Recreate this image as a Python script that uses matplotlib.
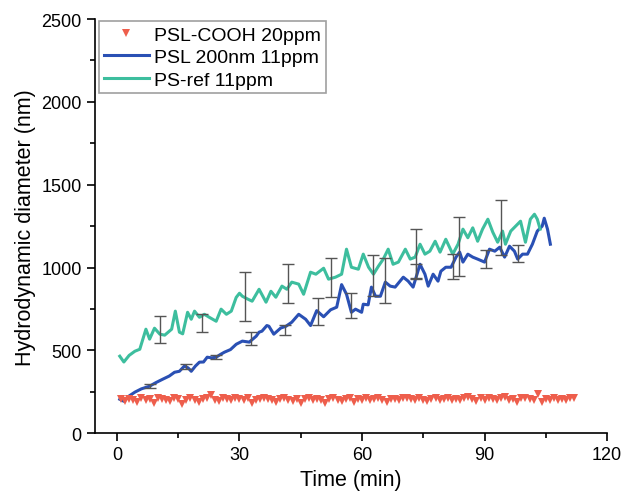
import numpy as np
import matplotlib
matplotlib.use("Agg")
from matplotlib import pyplot as plt

plt.rcParams['font.family'] = ['Liberation Sans', 'DejaVu Sans']

# PS-ref 11ppm (green line)
ref_t = [0.7, 1.7, 3.0, 4.4, 5.6, 7.1, 8.0, 9.2, 10.5, 11.7, 13.4, 14.3, 15.3, 16.1, 17.3, 18.2,
         19.0, 20.2, 21.4, 22.6, 24.3, 25.5, 26.8, 28.0, 29.2, 30.0, 30.7, 32.0, 33.1, 34.8, 36.5,
         37.7, 38.9, 40.4, 41.6, 42.8, 44.5, 45.7, 47.4, 48.7, 50.6, 51.8, 53.5, 55.0, 56.2, 57.4,
         59.1, 60.3, 61.6, 62.8, 64.0, 65.2, 66.4, 67.6, 68.9, 70.6, 71.8, 73.0, 74.2, 75.4, 76.6,
         77.9, 79.1, 80.5, 82.2, 83.5, 84.7, 85.9, 87.1, 88.3, 89.5, 90.8, 92.0, 93.2, 94.4, 95.1,
         96.4, 97.6, 98.8, 100.0, 101.2, 102.2, 102.9, 103.6]
ref_d = [465, 430, 470, 495, 507, 628, 568, 634, 598, 592, 628, 737, 610, 600, 730, 688,
         737, 700, 718, 700, 676, 749, 718, 737, 820, 845, 827, 810, 797, 869, 791,
         857, 821, 888, 869, 912, 900, 839, 972, 960, 996, 930, 942, 960, 1111, 1002,
         990, 1081, 1002, 960, 1008, 1051, 1111, 1020, 1033, 1111, 1051, 1063, 1141, 1081, 1099,
         1159, 1093, 1171, 1081, 1141, 1232, 1180, 1240, 1159, 1232, 1292, 1214, 1153, 1220, 1141,
         1220, 1250, 1280, 1153, 1292, 1322, 1292, 1232]

# PSL 200nm 11ppm (blue line)
psl_t = [0.7, 1.7, 3.0, 4.4, 6.0, 8.0, 9.5, 11.2, 12.8, 14.1, 15.3, 16.5, 17.4, 18.2, 19.2, 20.2,
         21.2, 22.1, 23.2, 24.3, 25.3, 26.3, 27.8, 29.2, 30.7, 32.4, 34.1, 34.8, 35.5, 36.7, 37.2,
         38.4, 40.1, 41.4, 42.8, 44.5, 46.2, 47.4, 48.9, 50.6, 52.3, 53.8, 55.0, 56.2, 57.4, 58.4,
         59.9, 60.3, 61.5, 62.3, 63.3, 64.5, 65.7, 66.9, 68.1, 70.1, 71.3, 72.5, 74.2, 75.4, 76.2,
         77.4, 78.6, 79.3, 80.5, 81.8, 83.0, 83.9, 84.7, 85.9, 87.1, 88.3, 90.0, 91.2, 92.5, 93.7,
         94.9, 96.1, 97.3, 98.1, 99.3, 100.5, 101.7, 102.9, 104.1, 104.6, 105.4, 106.1]
psl_d = [205, 193, 225, 248, 268, 284, 305, 326, 345, 368, 374, 405, 395, 374, 405, 429,
         430, 459, 455, 459, 475, 489, 505, 537, 556, 550, 586, 610, 616, 650, 646,
         598, 635, 646, 670, 718, 688, 650, 740, 703, 745, 761, 897, 839, 730, 749,
         730, 779, 775, 882, 827, 827, 912, 888, 882, 942, 918, 882, 1020, 960, 888,
         960, 918, 978, 1002, 1002, 1063, 1093, 1033, 1081, 1063, 1051, 1033, 1111, 1099, 1123,
         1063, 1129, 1099, 1051, 1081, 1081, 1141, 1220, 1250, 1298, 1232, 1141]

# PSL-COOH 20ppm (red triangles), one point per minute from t = 1
cooh_d = [205, 195, 208, 200, 190, 210, 198, 205, 185, 212, 207, 200, 195, 210, 205, 175,
          200, 212, 198, 190, 205, 210, 228, 200, 195, 210, 205, 198, 215, 205, 200, 210,
          180, 200, 208, 212, 205, 198, 190, 205, 210, 200, 195, 208, 185, 205, 215, 198,
          205, 200, 180, 205, 210, 200, 195, 208, 212, 190, 205, 200, 210, 198, 205, 215,
          200, 190, 208, 205, 200, 212, 215, 205, 198, 210, 200, 195, 205, 212, 200, 208,
          215, 200, 205, 198, 210, 220, 205, 195, 212, 200, 210, 205, 198, 215, 220, 200,
          205, 190, 210, 215, 205, 198, 235, 190, 205, 200, 210, 198, 205, 200, 210, 212]
cooh_t = np.arange(1, len(cooh_d) + 1)

# error bars (top / bottom)
ref_err_t = [10.5, 20.9, 31.4, 41.9, 52.3, 62.8, 73.2, 83.7, 93.9]
ref_err_hi = [707, 718, 972, 1020, 1057, 1075, 1232, 1304, 1407]
ref_err_lo = [543, 610, 676, 785, 821, 827, 930, 948, 1075]
psl_err_t = [8.0, 16.8, 24.3, 32.8, 41.1, 49.1, 57.4, 65.7, 73.2, 82.2, 90.3, 98.3]
psl_err_hi = [296, 417, 471, 612, 652, 815, 845, 1057, 1020, 1081, 1105, 1135]
psl_err_lo = [276, 387, 447, 530, 592, 652, 694, 785, 940, 930, 996, 1033]

RED = '#EE5E4C'
BLUE = '#2A50B4'
GREEN = '#3DBE9E'
ERR = '#555555'

fig = plt.figure(figsize=(6.24, 5.02), dpi=100)
ax = fig.add_axes([0.152, 0.135, 0.821, 0.825])

ax.plot(cooh_t, cooh_d, 'v', color=RED, markersize=6, markeredgewidth=0,
        label='PSL-COOH 20ppm', zorder=3)
ax.plot(psl_t, psl_d, '-', color=BLUE, linewidth=2.2, label='PSL 200nm 11ppm', zorder=2)
ax.plot(ref_t, ref_d, '-', color=GREEN, linewidth=2.2, label='PS-ref 11ppm', zorder=2)

for et, hi, lo in [(ref_err_t, ref_err_hi, ref_err_lo), (psl_err_t, psl_err_hi, psl_err_lo)]:
    hi = np.array(hi)
    lo = np.array(lo)
    mid = (hi + lo) / 2
    ax.errorbar(et, mid, yerr=[mid - lo, hi - mid], fmt='none', ecolor=ERR,
                elinewidth=1, capsize=4, capthick=1, zorder=4)

ax.set_xlim(-5.4, 120)
ax.set_ylim(0, 2500)
ax.set_xticks([0, 30, 60, 90, 120])
ax.set_xticks([15, 45, 75, 105], minor=True)
ax.set_yticks([0, 500, 1000, 1500, 2000, 2500])
ax.set_yticks([250, 750, 1250, 1750, 2250], minor=True)
ax.spines['top'].set_visible(False)
ax.spines['right'].set_visible(False)
ax.spines['left'].set_linewidth(1.2)
ax.spines['bottom'].set_linewidth(1.2)
ax.tick_params(which='major', direction='out', length=6, width=1.2, labelsize=13)
ax.tick_params(which='minor', direction='out', length=3.5, width=1.2)

ax.set_xlabel('Time (min)', fontsize=15.5)
ax.set_ylabel('Hydrodynamic diameter (nm)', fontsize=15.5)

leg = ax.legend(loc='upper left', bbox_to_anchor=(0.008, 0.995), fontsize=14,
                frameon=True, fancybox=False, handlelength=2.3, borderpad=0.25,
                labelspacing=0.25, handletextpad=0.3, borderaxespad=0.0)
leg.get_frame().set_edgecolor('#888888')
leg.get_frame().set_linewidth(1.2)

fig.savefig('out.png', dpi=100)
